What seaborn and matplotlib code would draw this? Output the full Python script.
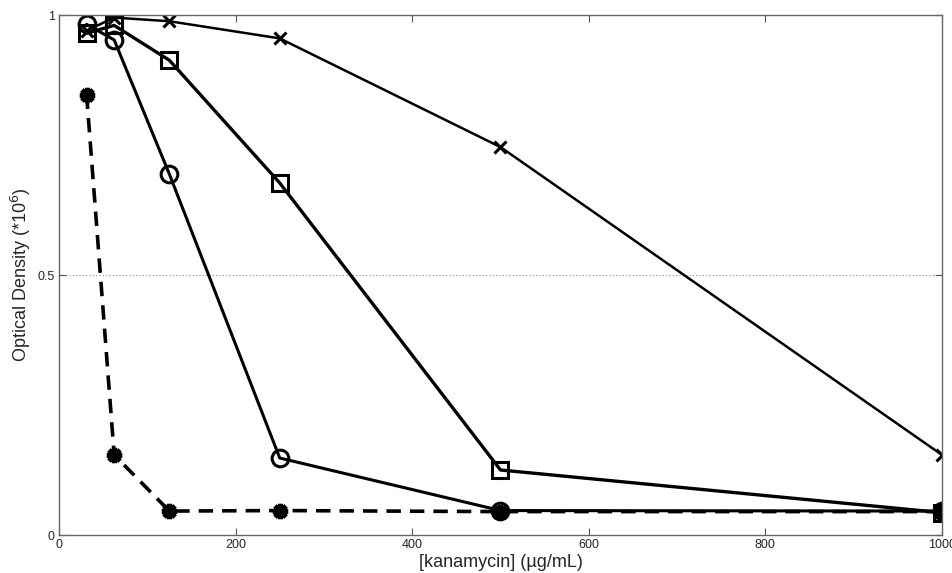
import matplotlib
matplotlib.use("Agg")
import matplotlib.pyplot as plt
import seaborn as sns
import pandas as pd

conc = [31.25, 62.5, 125, 250, 500, 1000]
series_x = [0.97, 0.995, 0.988, 0.955, 0.746, 0.154]
series_sq = [0.965, 0.98, 0.913, 0.677, 0.125, 0.043]
series_o = [0.982, 0.952, 0.694, 0.148, 0.047, 0.046]
series_star = [0.847, 0.154, 0.046, 0.047, 0.045, 0.045]

xticks = [0, 200, 400, 600, 800, 1000]
yticks = [0, 0.5, 1]
ytick_labels = ["0", "0.5", "1"]

sns.set_style("white")
plt.rcParams['font.family'] = ['Liberation Sans', 'DejaVu Sans']

fig = plt.figure(figsize=(9.53, 5.73), dpi=100)
ax = fig.add_axes([59/953, 38/573, (942-59)/953, (535-15)/573])

sns.lineplot(x=conc, y=series_x, ax=ax, color='black', lw=1.8, marker='x',
             markersize=8, markeredgewidth=2.2, markeredgecolor='black')
sns.lineplot(x=conc, y=series_sq, ax=ax, color='black', lw=2.4, marker='s',
             markersize=11, markeredgewidth=2.2, markerfacecolor='none', markeredgecolor='black')
sns.lineplot(x=conc, y=series_o, ax=ax, color='black', lw=2.2, marker='o',
             markersize=12, markeredgewidth=2.2, markerfacecolor='none', markeredgecolor='black')
sns.lineplot(x=conc, y=series_star, ax=ax, color='black', lw=2.6, marker=(8, 2, 0),
             markersize=11, markeredgewidth=3.5, markeredgecolor='black')
ax.lines[-1].set_linestyle((0, (4, 2.5)))

ax.set_xlim(0, 1000)
ax.set_ylim(0, 1)
ax.set_xticks(xticks)
ax.set_xticklabels([str(t) for t in xticks], fontsize=9)
ax.set_yticks(yticks)
ax.set_yticklabels(ytick_labels, fontsize=9)
ax.tick_params(direction='in', length=5, width=0.8, color='#555555', top=True, right=True,
               bottom=True, left=True, pad=3)
ax.axhline(0.5, color='#888888', lw=0.8, ls=(0, (1, 2)), zorder=0)
for s in ax.spines.values():
    s.set_color('#666666')
    s.set_linewidth(1.0)
ax.set_xlabel("[kanamycin] (µg/mL)", fontsize=13, labelpad=2)
ax.set_ylabel("Optical Density (*10$^6$)", fontsize=13)
ax.yaxis.set_label_coords(-0.029, 0.5)

fig.savefig("out.png", dpi=100)
